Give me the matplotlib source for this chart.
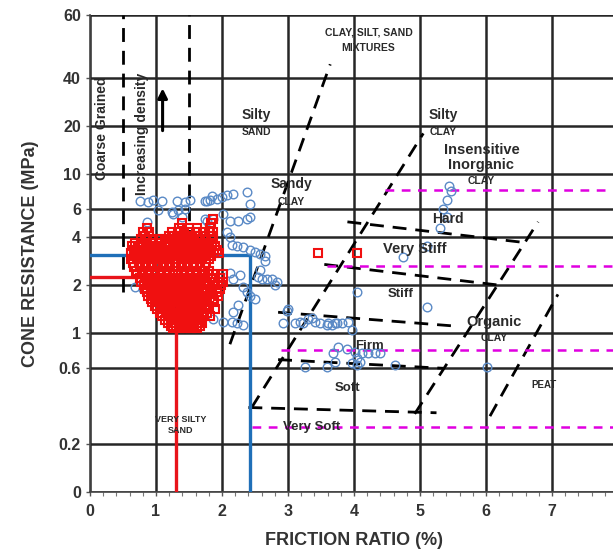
import matplotlib
matplotlib.use("Agg")
import matplotlib.pyplot as plt
import numpy as np

plt.rcParams['font.family'] = ['Liberation Sans', 'DejaVu Sans']

# ---------------- data ----------------
# axis ticks (y axis is drawn on a log scale; label "0" sits at 0.1 and "60" at the top line)
y_tick_vals = [0.1, 0.2, 0.6, 1, 2, 4, 6, 10, 20, 40, 100]
y_tick_labels = ["0", "0.2", "0.6", "1", "2", "4", "6", "10", "20", "40", "60"]
x_tick_vals = [0, 1, 2, 3, 4, 5, 6, 7, 8]

# blue circles (friction ratio %, cone resistance MPa)
blue_fr = [0.76, 0.88, 0.95, 1.09, 1.32, 1.44, 1.52, 1.74, 1.82, 1.92, 2.00, 2.08, 2.17, 2.38, 2.42, 1.85, 1.77,
           1.03, 1.24, 1.33, 1.44,
           0.86, 1.26, 1.39, 1.74, 1.77, 1.86, 2.02, 2.12, 2.24, 2.38, 2.42,
           2.08, 2.12, 2.15, 2.23, 2.32, 2.42, 2.50, 2.58, 2.65, 2.65,
           2.12, 2.17, 2.27, 2.32, 2.58, 2.55, 2.61, 2.68, 2.76, 2.83, 2.80,
           2.38, 2.42, 2.50, 2.24, 2.17,
           1.86, 2.02, 2.15, 2.23, 2.32,
           2.92, 2.98, 3.00, 3.11, 3.18, 3.23, 3.30, 3.36, 3.41, 3.48, 3.59, 3.61, 3.67, 3.71, 3.74, 3.82, 3.91, 3.97,
           4.05, 5.11,
           3.76, 3.89, 3.68, 4.02, 4.12, 4.21, 4.32, 4.39, 4.05, 4.09, 3.97, 4.05, 3.26, 3.59, 4.62, 3.71, 6.02,
           5.44, 5.47, 5.41, 5.35, 5.41, 5.30, 5.11, 4.74,
           0.80, 0.91, 0.68]
blue_qc = [6.8, 6.7, 6.9, 6.8, 6.8, 6.7, 6.9, 6.8, 6.9, 7.0, 7.2, 7.4, 7.5, 7.7, 6.5, 7.3, 6.8,
           5.9, 5.8, 5.9, 6.0,
           5.0, 5.6, 5.4, 5.2, 5.05, 5.2, 5.6, 5.05, 5.05, 5.2, 5.4,
           4.3, 4.0, 3.6, 3.5, 3.45, 3.35, 3.25, 3.13, 3.04, 2.83,
           2.4, 2.2, 2.3, 1.96, 2.5, 2.25, 2.2, 2.2, 2.2, 2.1, 2.0,
           1.8, 1.7, 1.63, 1.5, 1.35,
           1.22, 1.18, 1.18, 1.16, 1.13,
           1.16, 1.37, 1.41, 1.16, 1.18, 1.16, 1.22, 1.25, 1.18, 1.16, 1.13, 1.16, 1.13, 1.16, 1.16, 1.16, 1.18, 1.05,
           1.80, 1.45,
           0.82, 0.79, 0.75, 0.76, 0.75, 0.75, 0.75, 0.75, 0.70, 0.66, 0.65, 0.63, 0.61, 0.61, 0.63, 0.66, 0.61,
           8.4, 7.8, 6.9, 6.0, 5.4, 4.6, 3.5, 3.0,
           1.9, 1.8, 1.94]

# red squares, listed row by row (cone resistance level : friction ratios)
red_rows = {
    5.2: [1.86],
    4.9: [1.39, 1.84],
    4.6: [0.86, 1.35, 1.50, 1.62, 1.82],
    4.3: [0.80, 0.90, 1.24, 1.33, 1.42, 1.52, 1.60, 1.71, 1.80, 1.86],
    4.1: [0.83, 1.19, 1.28, 1.37, 1.46, 1.55, 1.64, 1.74, 1.84],
    3.9: [0.78, 0.87, 0.96, 1.05, 1.14, 1.22, 1.31, 1.40, 1.49, 1.58, 1.67, 1.76, 1.86],
    3.7: [0.68, 0.77, 0.86, 0.95, 1.04, 1.13, 1.21, 1.30, 1.39, 1.48, 1.57, 1.66, 1.75, 1.85],
    3.5: [0.63, 0.72, 0.81, 0.90, 0.99, 1.08, 1.17, 1.26, 1.35, 1.44, 1.53, 1.62, 1.71, 1.80, 1.90],
    3.35: [0.66, 0.75, 0.84, 0.93, 1.03, 1.12, 1.21, 1.30, 1.39, 1.48, 1.57, 1.66, 1.75, 1.84, 1.92],
    3.2: [0.62, 0.71, 0.80, 0.89, 0.98, 1.07, 1.16, 1.25, 1.34, 1.43, 1.52, 1.61, 1.70, 1.79, 1.88, 1.95, 3.45, 4.05],
    3.05: [0.66, 0.75, 0.84, 0.94, 1.03, 1.12, 1.20, 1.29, 1.38, 1.47, 1.56, 1.65, 1.75, 1.84],
    2.9: [0.62, 0.71, 0.80, 0.89, 0.98, 1.07, 1.16, 1.25, 1.34, 1.43, 1.52, 1.61, 1.70, 1.80],
    2.75: [0.65, 0.74, 0.83, 0.93, 1.02, 1.11, 1.20, 1.29, 1.38, 1.47, 1.56, 1.66, 1.76],
    2.6: [0.67, 0.76, 0.85, 0.94, 1.03, 1.12, 1.21, 1.30, 1.39, 1.48, 1.57, 1.66, 1.74],
    2.47: [0.70, 0.79, 0.88, 0.98, 1.07, 1.16, 1.25, 1.34, 1.43, 1.52, 1.62, 1.71, 1.80],
    2.35: [0.71, 0.80, 0.89, 0.98, 1.07, 1.16, 1.25, 1.34, 1.43, 1.52, 1.61, 1.70, 1.79, 1.86, 2.02],
    2.22: [0.75, 0.84, 0.93, 1.02, 1.11, 1.20, 1.29, 1.38, 1.47, 1.56, 1.65, 1.74, 1.83, 1.97],
    2.1: [0.78, 0.87, 0.96, 1.05, 1.14, 1.23, 1.32, 1.41, 1.50, 1.59, 1.68, 1.77, 1.86, 1.94, 2.02],
    2.0: [0.82, 0.91, 1.00, 1.09, 1.18, 1.27, 1.36, 1.45, 1.54, 1.63, 1.72, 1.81, 1.90, 1.99],
    1.9: [0.84, 0.93, 1.02, 1.11, 1.20, 1.29, 1.38, 1.47, 1.56, 1.65, 1.74, 1.83, 1.97],
    1.8: [0.87, 0.97, 1.06, 1.15, 1.24, 1.33, 1.42, 1.51, 1.60, 1.69, 1.78, 1.92],
    1.72: [0.88, 0.97, 1.06, 1.15, 1.24, 1.33, 1.42, 1.51, 1.60, 1.69, 1.78, 1.94],
    1.64: [0.92, 1.01, 1.10, 1.19, 1.28, 1.37, 1.46, 1.55, 1.64, 1.73, 1.86],
    1.56: [0.94, 1.03, 1.12, 1.21, 1.30, 1.39, 1.48, 1.57, 1.66, 1.75, 1.88],
    1.48: [0.98, 1.07, 1.16, 1.25, 1.34, 1.43, 1.52, 1.61, 1.70, 1.80],
    1.41: [1.02, 1.11, 1.20, 1.29, 1.38, 1.47, 1.56, 1.65, 1.74, 1.89],
    1.34: [1.06, 1.15, 1.24, 1.33, 1.42, 1.51, 1.60, 1.69, 1.78],
    1.27: [1.09, 1.18, 1.27, 1.36, 1.45, 1.54, 1.63, 1.72, 1.82],
    1.21: [1.14, 1.23, 1.32, 1.41, 1.50, 1.59, 1.68],
    1.15: [1.18, 1.27, 1.36, 1.45, 1.54, 1.63, 1.70],
    1.11: [1.22, 1.31, 1.40, 1.49, 1.58, 1.66],
    1.07: [1.26, 1.35, 1.44, 1.53, 1.62],
}

# black dashed zone boundaries: (x0, y0, x1, y1)
zone_lines = [
    (0.5, 1.8, 0.5, 100), (1.5, 1.9, 1.5, 100),
    (2.12, 0.85, 3.64, 49), (2.45, 0.34, 5.05, 18),
    (4.92, 0.31, 6.79, 5.0), (6.06, 0.30, 7.09, 1.75),
    (3.9, 5.0, 6.6, 3.7), (3.55, 2.7, 6.2, 2.0),
    (2.85, 1.35, 5.6, 1.1), (2.85, 0.68, 5.35, 0.6),
    (2.4, 0.34, 5.25, 0.315),
]
# magenta dashed levels: (start friction ratio, cone resistance)
magenta_lines = [(4.47, 7.9), (3.59, 2.63), (2.9, 0.78), (2.45, 0.257)]

# reference lines
red_level, red_fr = 2.25, 1.30
blue_level, blue_fr_line = 3.1, 2.42

# ---------------- figure ----------------
fig = plt.figure(figsize=(6.13, 5.54), dpi=100)
ax = fig.add_axes([90/613, 1-492/554, 528/613, 477/554])
ax.set_yscale('log')
ax.set_xlim(0, 8)
ax.set_ylim(0.1, 100)

grid_c = '#262626'
for xv in x_tick_vals:
    ax.axvline(xv, color=grid_c, lw=1.8, zorder=1)
for yv in y_tick_vals:
    ax.axhline(yv, color=grid_c, lw=1.8, zorder=1)

ax.set_yticks(y_tick_vals)
ax.set_yticklabels(y_tick_labels)
ax.yaxis.set_minor_locator(matplotlib.ticker.NullLocator())
ax.set_xticks(x_tick_vals)
ax.set_xticks(np.arange(0, 8.01, 0.2), minor=True)
ax.tick_params(axis='both', which='major', labelsize=11.5, labelcolor='#333333', length=3, width=1, color='#555555')
ax.tick_params(axis='x', which='minor', length=3, width=0.8, color='#777777')
for lab in ax.get_xticklabels() + ax.get_yticklabels():
    lab.set_fontweight('bold')
ax.tick_params(axis='x', pad=6)
for s in ['top', 'right']:
    ax.spines[s].set_visible(False)
for s in ['left', 'bottom']:
    ax.spines[s].set_color('#444444')
    ax.spines[s].set_linewidth(1.2)

# zone boundaries
for x0, y0, x1, y1 in zone_lines:
    ax.plot([x0, x1], [y0, y1], color='black', lw=2.0, dashes=(5, 3.2), zorder=3)
for x0, yv in magenta_lines:
    ax.plot([x0, 8], [yv, yv], color='#e000e0', lw=1.8, dashes=(3.5, 3.0), zorder=3)

# arrow (increasing density)
ax.annotate('', xy=(1.1, 36), xytext=(1.1, 18),
            arrowprops=dict(arrowstyle='-|>', color='black', lw=2.2, mutation_scale=14), zorder=4)

# reference lines
ax.plot([0, red_fr], [red_level, red_level], color='#e8141a', lw=2.4, zorder=4)
ax.plot([red_fr, red_fr], [0.1, red_level], color='#e8141a', lw=2.4, zorder=4)
ax.plot([0, blue_fr_line], [blue_level, blue_level], color='#1f6fb8', lw=2.4, zorder=4)
ax.plot([blue_fr_line, blue_fr_line], [0.1, blue_level], color='#1f6fb8', lw=2.4, zorder=4)

# data
ax.plot(blue_fr, blue_qc, linestyle='none', marker='o', ms=6.2, mfc='none', mec='#5a8ac6', mew=1.0, zorder=5)
red_x, red_y = [], []
for lvl, xs in red_rows.items():
    red_x += xs
    red_y += [lvl] * len(xs)
ax.plot(red_x, red_y, linestyle='none', marker='s', ms=6.4, mfc='none', mec='#f01010', mew=1.5, zorder=6)

# zone labels
tc = '#2a2a2a'
def lab(x, y, s, size, rot=0, bold=True, c=tc):
    ax.text(x, y, s, fontsize=size, fontweight='bold' if bold else 'normal', color=c,
            ha='center', va='center', rotation=rot, zorder=7)

lab(0.18, 19.5, 'Coarse Grained', 10, rot=90)
lab(0.79, 18, 'Increasing density', 10, rot=90)
lab(2.52, 23.5, 'Silty', 10)
lab(2.52, 18.5, 'SAND', 7.5)
lab(3.05, 8.6, 'Sandy', 10)
lab(3.05, 6.7, 'CLAY', 7.5)
lab(4.22, 78, 'CLAY, SILT, SAND', 7.5)
lab(4.22, 62, 'MIXTURES', 7.5)
lab(5.35, 23.5, 'Silty', 10)
lab(5.35, 18.5, 'CLAY', 7.5)
lab(5.93, 14.2, 'Insensitive', 10.5)
lab(5.93, 11.4, 'Inorganic', 10.5)
lab(5.93, 9.0, 'CLAY', 7.5)
lab(5.42, 5.2, 'Hard', 10)
lab(4.92, 3.36, 'Very Stiff', 10.5)
lab(4.7, 1.75, 'Stiff', 9.5)
lab(6.12, 1.17, 'Organic', 10.5)
lab(6.12, 0.93, 'CLAY', 7.5)
lab(4.24, 0.83, 'Firm', 9.5)
lab(3.9, 0.45, 'Soft', 9.5)
lab(6.88, 0.47, 'PEAT', 7)
lab(3.36, 0.257, 'Very Soft', 9.5)
lab(1.37, 0.285, 'VERY SILTY', 6.5)
lab(1.37, 0.245, 'SAND', 6.5)

ax.set_xlabel('FRICTION RATIO (%)', fontsize=13, fontweight='bold', color='#333333')
ax.xaxis.set_label_coords(0.5, -0.083)
ax.set_ylabel('CONE RESISTANCE (MPa)', fontsize=13, fontweight='bold', color='#333333', labelpad=14)

fig.savefig('out.png', dpi=100)
